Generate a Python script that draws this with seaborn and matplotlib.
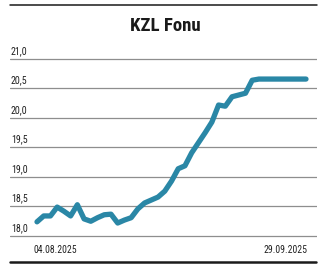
import matplotlib
matplotlib.use("Agg")
import matplotlib.pyplot as plt
import matplotlib.transforms as mtransforms
from matplotlib.lines import Line2D
from matplotlib import font_manager
from matplotlib.font_manager import FontProperties
import seaborn as sns
import pandas as pd

title = "KZL Fonu"
date_labels = ["04.08.2025", "29.09.2025"]
y_ticks = [18.0, 18.5, 19.0, 19.5, 20.0, 20.5, 21.0]
y_tick_labels = ["18,0", "18,5", "19,0", "19,5", "20,0", "20,5", "21,0"]
values = [18.24, 18.34, 18.34, 18.49, 18.42, 18.34, 18.53, 18.29, 18.25, 18.31,
          18.36, 18.37, 18.22, 18.27, 18.31, 18.46, 18.56, 18.61, 18.66, 18.76,
          18.93, 19.14, 19.19, 19.41, 19.58, 19.75, 19.93, 20.22, 20.20, 20.36,
          20.39, 20.42, 20.64, 20.66, 20.66, 20.66, 20.66, 20.66, 20.66, 20.66,
          20.66]

df = pd.DataFrame({"idx": list(range(len(values))), "value": values})

sns.set_theme(style="white")
plt.rcParams["font.family"] = ["DejaVu Sans"]


def pick(bold):
    cands = []
    for f in font_manager.fontManager.ttflist:
        fn = f.fname.lower()
        if ("condensed" in fn or "narrow" in fn) and "italic" not in fn \
                and "oblique" not in fn:
            isbold = "bold" in fn
            if isbold == bold:
                cands.append(f.fname)
    pref = ["liberationsansnarrow", "roboto", "dejavusanscondensed", "opensans",
            "noto"]
    for p in pref:
        for c in cands:
            if p in c.lower().replace("-", "").replace("_", ""):
                return c
    return cands[0] if cands else None


f_reg = pick(False)
f_bold = pick(True)
fp_reg = FontProperties(fname=f_reg) if f_reg else FontProperties(family="DejaVu Sans", stretch="condensed")
fp_bold = FontProperties(fname=f_bold) if f_bold else FontProperties(family="DejaVu Sans", weight="bold", stretch="condensed")

W, H = 329, 269
fig = plt.figure(figsize=(W / 100, H / 100), dpi=100)
fig.patch.set_facecolor("white")

ylo, yhi = 17.9, 21.1
ppu = 59.0
y18 = 236.0
bottom_px = y18 + (18.0 - ylo) * ppu
top_px = y18 - (yhi - 18.0) * ppu
left_px, right_px = 10.0, 317.0
ax = fig.add_axes([left_px / W, 1 - bottom_px / H, (right_px - left_px) / W,
                   (bottom_px - top_px) / H])
ax.set_facecolor("white")

dx = (306 - 37) / (len(values) - 1)
ax.set_xlim((left_px - 37) / dx, (len(values) - 1) + (right_px - 306) / dx)
ax.set_ylim(ylo, yhi)

for yv in y_ticks:
    ax.axhline(yv, color="#8e8e8e", lw=0.9, zorder=1)

sns.lineplot(data=df, x="idx", y="value", ax=ax, color="#2a87a6", lw=3.8,
             solid_capstyle="round", solid_joinstyle="round", zorder=3)

for s in ax.spines.values():
    s.set_visible(False)
ax.set_xlabel("")
ax.set_ylabel("")
ax.set_yticks([])
ax.set_xticks([0, len(values) - 1])
ax.set_xticklabels(date_labels, color="#222222")
ax.tick_params(axis="x", length=0, pad=2.2)
labs = ax.get_xticklabels()
for lb in labs:
    lb.set_fontproperties(fp_reg)
    lb.set_fontsize(7.0)
labs[0].set_ha("left")
labs[1].set_ha("right")
off_l = mtransforms.ScaledTranslation(-4 / 100, 0, fig.dpi_scale_trans)
off_r = mtransforms.ScaledTranslation(2 / 100, 0, fig.dpi_scale_trans)
labs[0].set_transform(labs[0].get_transform() + off_l)
labs[1].set_transform(labs[1].get_transform() + off_r)

trans = mtransforms.blended_transform_factory(ax.transAxes, ax.transData)
up = mtransforms.ScaledTranslation(1 / 100, 3 / 100, fig.dpi_scale_trans)
for yv, lab in zip(y_ticks, y_tick_labels):
    ax.text(0, yv, lab, transform=trans + up, ha="left", va="bottom",
            fontproperties=fp_reg, fontsize=7.2, color="#222222")

fig.text(165 / W, 1 - 26 / H, title, ha="center", va="center",
         fontproperties=fp_bold, fontsize=13.5, color="#1a1a1a")

fig.add_artist(Line2D([10 / W, 317 / W], [1 - 5 / H, 1 - 5 / H],
                      transform=fig.transFigure, color="#1a1a1a", lw=1.1))
fig.add_artist(Line2D([10 / W, 316 / W], [1 - 262 / H, 1 - 262 / H],
                      transform=fig.transFigure, color="#1a1a1a", lw=1.8))

fig.savefig("out.png", dpi=100, facecolor="white")
